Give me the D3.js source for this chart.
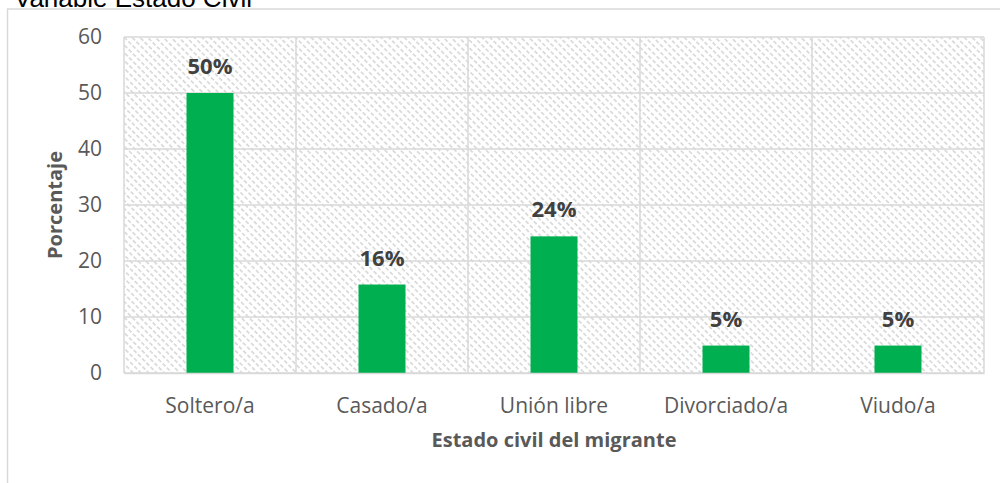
<!DOCTYPE html>
<html>
<head>
<meta charset="utf-8">
<script src="https://cdn.jsdelivr.net/npm/d3@7"></script>
<style>
  body { margin: 0; background: #fff; }
  svg { display: block; }
</style>
</head>
<body>
<svg id="chart" width="1000" height="483"></svg>
<script>
"use strict";

// chart data
const categories = ["Soltero/a", "Casado/a", "Unión libre", "Divorciado/a", "Viudo/a"];
const values = [50.0, 15.8, 24.4, 4.9, 4.9];
const valueLabels = ["50%", "16%", "24%", "5%", "5%"];
const yTicks = [0, 10, 20, 30, 40, 50, 60];

const width = 1000;
const height = 483;
const plot = {left: 124, right: 984, top: 37, bottom: 373};
const font = "Open Sans, sans-serif";

let svg = d3.select("#chart");

// hatched background pattern (light dashed diagonals)
let defs = svg.append("defs");
let pat = defs.append("pattern")
  .attr("id", "hatch")
  .attr("patternUnits", "userSpaceOnUse")
  .attr("width", 5.5)
  .attr("height", 6)
  .attr("patternTransform", "rotate(-45)");
pat.append("rect").attr("width", 5.5).attr("height", 6).attr("fill", "#fff");
pat.append("line")
  .attr("x1", 1).attr("y1", 0).attr("x2", 1).attr("y2", 6)
  .attr("stroke", "#cdcdcd")
  .attr("stroke-width", 1.3)
  .attr("stroke-dasharray", "4,2");

// outer chart border
svg.append("rect")
  .attr("x", 7.5).attr("y", 9)
  .attr("width", 1010).attr("height", 500)
  .attr("fill", "none")
  .attr("stroke", "#d9d9d9")
  .attr("stroke-width", 1.5);

// title (partly above the page edge, as in the source)
svg.append("text")
  .attr("x", 14).attr("y", 7)
  .attr("font-family", "Liberation Sans, Arial, sans-serif")
  .attr("font-size", 26)
  .attr("fill", "#000")
  .text("Variable Estado Civil");

let x = d3.scaleBand()
  .domain(categories)
  .range([plot.left, plot.right]);

let y = d3.scaleLinear()
  .domain([0, 60])
  .range([plot.bottom, plot.top]);

// plot area
svg.append("rect")
  .attr("x", plot.left).attr("y", plot.top)
  .attr("width", plot.right - plot.left)
  .attr("height", plot.bottom - plot.top)
  .attr("fill", "url(#hatch)");

// horizontal gridlines
svg.append("g")
  .selectAll("line")
  .data(yTicks)
  .join("line")
  .attr("x1", plot.left).attr("x2", plot.right)
  .attr("y1", d => y(d)).attr("y2", d => y(d))
  .attr("stroke", "#d9d9d9")
  .attr("stroke-width", 1.5);

// vertical gridlines at category boundaries
let bounds = categories.map(c => x(c)).concat([plot.right]);
svg.append("g")
  .selectAll("line")
  .data(bounds)
  .join("line")
  .attr("x1", d => d).attr("x2", d => d)
  .attr("y1", plot.top).attr("y2", plot.bottom)
  .attr("stroke", "#d9d9d9")
  .attr("stroke-width", 1.5);

// bars
let barW = 47;
svg.append("g")
  .selectAll("rect")
  .data(values)
  .join("rect")
  .attr("x", (d, i) => x(categories[i]) + x.bandwidth() / 2 - barW / 2)
  .attr("y", d => y(d))
  .attr("width", barW)
  .attr("height", d => y(0) - y(d))
  .attr("fill", "#00b050");

// data labels
svg.append("g")
  .selectAll("text")
  .data(values)
  .join("text")
  .attr("x", (d, i) => x(categories[i]) + x.bandwidth() / 2)
  .attr("y", d => y(d) - 19)
  .attr("text-anchor", "middle")
  .attr("font-family", font)
  .attr("font-weight", "bold")
  .attr("font-size", 22)
  .attr("fill", "#404040")
  .text((d, i) => valueLabels[i]);

// y axis
let yAxis = svg.append("g")
  .attr("transform", "translate(" + (plot.left - 22) + ",0)")
  .call(d3.axisLeft(y).tickValues(yTicks).tickSize(0).tickPadding(0));
yAxis.select(".domain").remove();
yAxis.selectAll("text")
  .attr("font-family", font)
  .attr("font-size", 21)
  .attr("fill", "#595959");

// x axis
let xAxis = svg.append("g")
  .attr("transform", "translate(0," + plot.bottom + ")")
  .call(d3.axisBottom(x).tickSize(0).tickPadding(25));
xAxis.select(".domain")
  .attr("stroke", "#d9d9d9")
  .attr("stroke-width", 1.5);
xAxis.selectAll("text")
  .attr("font-family", font)
  .attr("font-size", 21)
  .attr("fill", "#595959");

// axis titles
svg.append("text")
  .attr("transform", "translate(62," + ((plot.top + plot.bottom) / 2) + ") rotate(-90)")
  .attr("text-anchor", "middle")
  .attr("font-family", font)
  .attr("font-weight", "bold")
  .attr("font-size", 20)
  .attr("fill", "#595959")
  .text("Porcentaje");

svg.append("text")
  .attr("x", (plot.left + plot.right) / 2)
  .attr("y", 447)
  .attr("text-anchor", "middle")
  .attr("font-family", font)
  .attr("font-weight", "bold")
  .attr("font-size", 20)
  .attr("fill", "#595959")
  .text("Estado civil del migrante");
</script>
</body>
</html>
